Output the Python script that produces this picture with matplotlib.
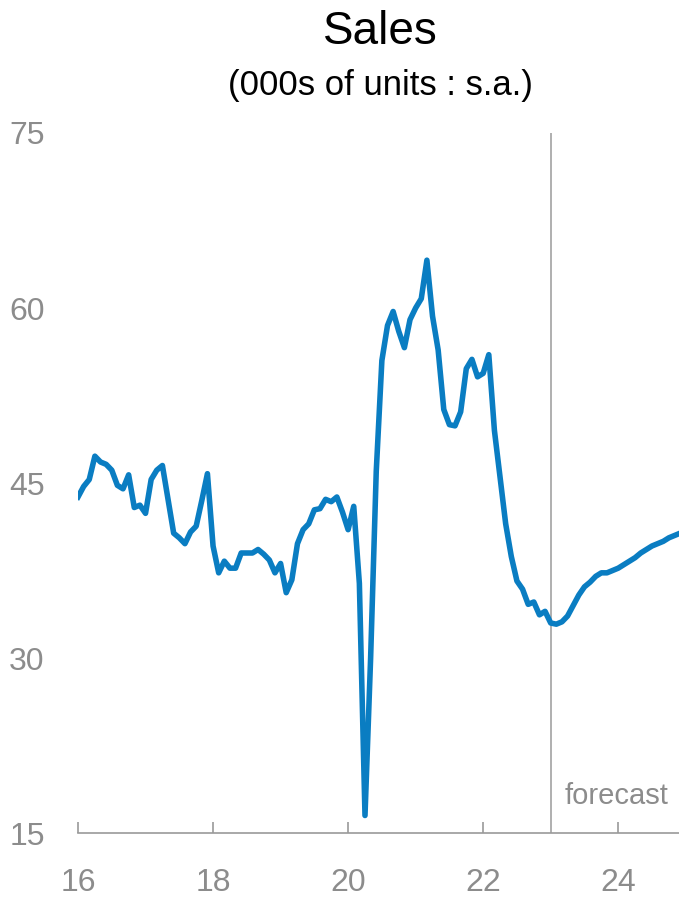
import numpy as np
import matplotlib
matplotlib.use("Agg")
import matplotlib.pyplot as plt

plt.rcParams['font.family'] = ['Liberation Sans', 'DejaVu Sans']

# Monthly sales, Jan 2016 .. Dec 2024 (000s of units, s.a.)
sales = [
    43.8, 44.7, 45.3, 47.3, 46.8, 46.6, 46.1, 44.8, 44.5, 45.7, 42.9, 43.1,  # 2016
    42.4, 45.3, 46.1, 46.5, 43.6, 40.7, 40.3, 39.8, 40.8, 41.3, 43.5, 45.8,  # 2017
    39.6, 37.3, 38.3, 37.7, 37.7, 39.0, 39.0, 39.0, 39.3, 38.9, 38.4, 37.3,  # 2018
    38.1, 35.6, 36.7, 39.8, 41.0, 41.5, 42.7, 42.8, 43.6, 43.4, 43.8, 42.5,  # 2019
    41.0, 43.0, 36.4, 16.5, 30.0, 46.0, 55.5, 58.5, 59.7, 58.0, 56.6, 59.0,  # 2020
    60.0, 60.8, 64.1, 59.3, 56.4, 51.3, 50.0, 49.9, 51.1, 54.8, 55.6, 54.1,  # 2021
    54.4, 56.0, 49.5, 45.5, 41.5, 38.7, 36.6, 35.9, 34.6, 34.8, 33.7, 34.0,  # 2022
    33.0, 32.9, 33.1, 33.6, 34.5, 35.4, 36.1, 36.5, 37.0, 37.3, 37.3, 37.5,  # 2023
    37.7, 38.0, 38.3, 38.6, 39.0, 39.3, 39.6, 39.8, 40.0, 40.3, 40.5, 40.7,  # 2024
]
start_year = 16
forecast_start = 23
x_ticks = [16, 18, 20, 22, 24]
y_ticks = [15, 30, 45, 60, 75]

x = start_year + np.arange(len(sales)) / 12

fig = plt.figure(figsize=(6.79, 8.97), dpi=100)
ax = fig.add_axes([78 / 679, 1 - 833 / 897, 1 - 78 / 679, (833 - 133) / 897])

ax.plot(x, sales, color="#0a7dc2", lw=4.0, solid_joinstyle="round", zorder=3)
ax.axvline(forecast_start, color="#9a9a9a", lw=1.1, zorder=2)
ax.text(forecast_start + 0.2, 17.0, "forecast", color="#8c8c8c",
        fontsize=21, ha="left", va="bottom")

ax.set_xlim(16, 24.9)
ax.set_ylim(15, 75)
ax.set_xticks(x_ticks)
ax.set_xticklabels([str(t) for t in x_ticks])
ax.set_yticks(y_ticks)

for side in ["top", "right", "left"]:
    ax.spines[side].set_visible(False)
ax.spines["bottom"].set_color("#9a9a9a")
ax.spines["bottom"].set_linewidth(1.2)

ax.tick_params(axis="x", direction="in", length=8, width=1.2,
               color="#9a9a9a", labelcolor="#8c8c8c", labelsize=23, pad=25)
ax.tick_params(axis="y", length=0, labelcolor="#8c8c8c", labelsize=23, pad=24)

fig.text(380 / 679, 1 - 32 / 897, "Sales", ha="center", va="center",
         fontsize=33, color="black")
fig.text(380 / 679, 1 - 85 / 897, "(000s of units : s.a.)", ha="center",
         va="center", fontsize=25, color="black")

fig.savefig("out.png", dpi=100)
